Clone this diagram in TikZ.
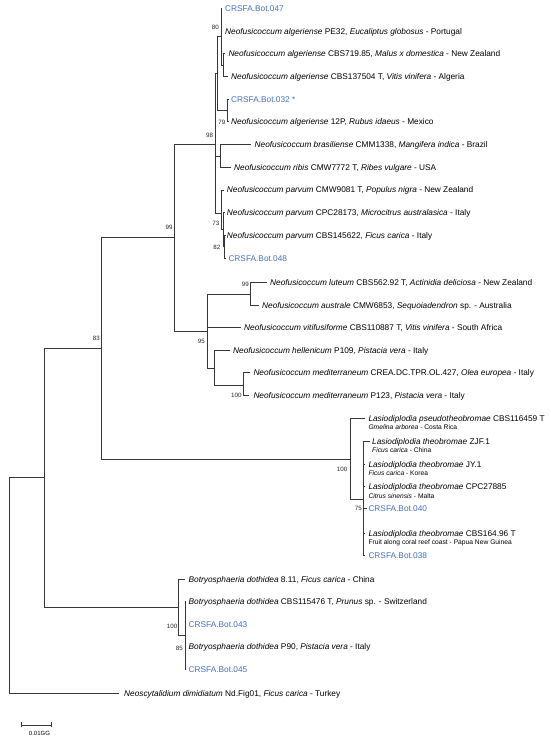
\documentclass[tikz,border=0pt]{standalone}
\usepackage{fontspec}
\setmainfont{Liberation Sans}
\definecolor{crsfa}{RGB}{68,114,196}
\definecolor{branch}{RGB}{55,55,55}
\begin{document}
\begin{tikzpicture}[x=1pt,y=-1pt,
  br/.style={draw=branch,line width=0.8pt,line cap=rect},
  lab/.style={anchor=base west,inner sep=0pt,font=\fontsize{8.3}{9.5}\selectfont},
  iso/.style={lab,text=crsfa},
  sub/.style={anchor=base west,inner sep=0pt,font=\fontsize{6.7}{7.5}\selectfont},
  bs/.style={anchor=base east,inner sep=0pt,font=\fontsize{6.2}{7}\selectfont,text=black!85}]
\useasboundingbox (0,0) rectangle (550,740);
\fill[white] (0,0) rectangle (550,740);
% internal nodes
\coordinate (root) at (9.3,585.5);
\coordinate (nB) at (44.3,477.7);
\coordinate (n83) at (101.7,348.3);
\coordinate (n99) at (174,237.3);
\coordinate (n98) at (215,144.3);
\coordinate (nXY) at (217,73.6);
\coordinate (n80) at (221,36.7);
\coordinate (nX2) at (223.3,65);
\coordinate (n79) at (227.7,110.5);
\coordinate (nBR) at (220.7,156);
\coordinate (nP) at (221.7,213.3);
\coordinate (nP2) at (223,229.6);
\coordinate (nP3) at (224.2,246.6);
\coordinate (n95) at (207.3,331);
\coordinate (nLA) at (250,294);
\coordinate (nM) at (214,368.3);
\coordinate (nMed) at (243.3,385);
\coordinate (nL) at (350.7,459.3);
\coordinate (nL2) at (363.3,499);
\coordinate (nBot) at (178,607.7);
\coordinate (nBot2) at (185,635.5);
% tips
\coordinate (t047) at (222,8.3);
\coordinate (tPE32) at (222,31);
\coordinate (t719) at (225,53.7);
\coordinate (t137) at (228,76.4);
\coordinate (t032) at (228.7,99.1);
\coordinate (t12P) at (228.7,121.8);
\coordinate (tBra) at (250.5,144.5);
\coordinate (tRib) at (231,167.2);
\coordinate (tCMW) at (223.7,189.9);
\coordinate (tCPC) at (224.2,212.6);
\coordinate (tC145) at (225.3,235.3);
\coordinate (t048) at (225.3,258);
\coordinate (tLut) at (266.7,282.5);
\coordinate (tAus) at (258.3,305);
\coordinate (tVit) at (241,327.5);
\coordinate (tHel) at (229.5,350);
\coordinate (tCREA) at (250,372);
\coordinate (tP123) at (249,395);
\coordinate (tPseu) at (365,418.8);
\coordinate (tZJF) at (370,441.7);
\coordinate (tJY) at (364.3,464);
\coordinate (tCPC2) at (364.3,486.7);
\coordinate (t040) at (366.7,508.3);
\coordinate (tCBS164) at (364.3,533.3);
\coordinate (t038) at (364.3,555.7);
\coordinate (t811) at (184.5,579);
\coordinate (tCBS115) at (186,601.7);
\coordinate (t043) at (186,624.3);
\coordinate (tP90) at (186,646.7);
\coordinate (t045) at (186,669.3);
\coordinate (tNeo) at (118.3,693.3);
% branches
\draw[br] (root) |- (nB);  \draw[br] (root) |- (tNeo);
\draw[br] (nB) |- (n83);   \draw[br] (nB) |- (nBot);
\draw[br] (n83) |- (n99);  \draw[br] (n83) |- (nL);
\draw[br] (n99) |- (n98);  \draw[br] (n99) |- (n95);
\draw[br] (n98) |- (nXY);  \draw[br] (n98) |- (nBR);  \draw[br] (n98) |- (nP);
\draw[br] (nXY) |- (n80);  \draw[br] (nXY) |- (n79);
\draw[br] (n80) |- (t047); \draw[br] (n80) |- (tPE32); \draw[br] (n80) |- (nX2);
\draw[br] (nX2) |- (t719); \draw[br] (nX2) |- (t137);
\draw[br] (n79) |- (t032); \draw[br] (n79) |- (t12P);
\draw[br] (nBR) |- (tBra); \draw[br] (nBR) |- (tRib);
\draw[br] (nP) |- (tCMW);  \draw[br] (nP) |- (nP2);
\draw[br] (nP2) |- (tCPC); \draw[br] (nP2) |- (nP3);
\draw[br] (nP3) |- (tC145); \draw[br] (nP3) |- (t048);
\draw[br] (n95) |- (nLA);  \draw[br] (n95) |- (tVit); \draw[br] (n95) |- (nM);
\draw[br] (nLA) |- (tLut); \draw[br] (nLA) |- (tAus);
\draw[br] (nM) |- (tHel);  \draw[br] (nM) |- (nMed);
\draw[br] (nMed) |- (tCREA); \draw[br] (nMed) |- (tP123);
\draw[br] (nL) |- (tPseu); \draw[br] (nL) |- (nL2);
\draw[br] (nL2) |- (tZJF); \draw[br] (nL2) |- (tJY); \draw[br] (nL2) |- (tCPC2);
\draw[br] (nL2) |- (t040); \draw[br] (nL2) |- (tCBS164); \draw[br] (nL2) |- (t038);
\draw[br] (nBot) |- (t811); \draw[br] (nBot) |- (nBot2);
\draw[br] (nBot2) |- (tCBS115); \draw[br] (nBot2) |- (t043);
\draw[br] (nBot2) |- (tP90); \draw[br] (nBot2) |- (t045);
% tip labels
\node[iso] (l047) at (225,11.3) {CRSFA.Bot.047};
\node[lab] (lPE32) at (225,34) {\textit{Neofusicoccum algeriense} PE32, \textit{Eucaliptus globosus} - Portugal};
\node[lab] (l719) at (228.3,56.7) {\textit{Neofusicoccum algeriense} CBS719.85, \textit{Malus x domestica} - New Zealand};
\node[lab] (l137) at (231,79.4) {\textit{Neofusicoccum algeriense} CBS137504 T, \textit{Vitis vinifera} - Algeria};
\node[iso] (l032) at (231,102.1) {CRSFA.Bot.032 *};
\node[lab] (l12P) at (231,124.8) {\textit{Neofusicoccum algeriense} 12P, \textit{Rubus idaeus} - Mexico};
\node[lab] (lBra) at (254.5,147.5) {\textit{Neofusicoccum brasiliense} CMM1338, \textit{Mangifera indica} - Brazil};
\node[lab] (lRib) at (234,170.2) {\textit{Neofusicoccum ribis} CMW7772 T, \textit{Ribes vulgare} - USA};
\node[lab] (lCMW) at (226.7,192.9) {\textit{Neofusicoccum parvum} CMW9081 T, \textit{Populus nigra} - New Zealand};
\node[lab] (lCPC) at (226.7,215.6) {\textit{Neofusicoccum parvum} CPC28173, \textit{Microcitrus australasica} - Italy};
\node[lab] (lC145) at (226.7,238.3) {\textit{Neofusicoccum parvum} CBS145622, \textit{Ficus carica} - Italy};
\node[iso] (l048) at (228.3,261) {CRSFA.Bot.048};
\node[lab] (lLut) at (270,285.5) {\textit{Neofusicoccum luteum} CBS562.92 T, \textit{Actinidia deliciosa} - New Zealand};
\node[lab] (lAus) at (262,308) {\textit{Neofusicoccum australe} CMW6853, \textit{Sequoiadendron} sp. - Australia};
\node[lab] (lVit) at (244,330.5) {\textit{Neofusicoccum vitifusiforme} CBS110887 T, \textit{Vitis vinifera} - South Africa};
\node[lab] (lHel) at (233,353) {\textit{Neofusicoccum hellenicum} P109, \textit{Pistacia vera} - Italy};
\node[lab] (lCREA) at (253.3,375) {\textit{Neofusicoccum mediterraneum} CREA.DC.TPR.OL.427, \textit{Olea europea} - Italy};
\node[lab] (lP123) at (253.3,398) {\textit{Neofusicoccum mediterraneum} P123, \textit{Pistacia vera} - Italy};
\node[lab] (lPseu) at (368.3,421.8) {\textit{Lasiodiplodia pseudotheobromae} CBS116459 T};
\node[sub] (lPseuB) at (368.3,429.3) {\textit{Gmelina arborea} - Costa Rica};
\node[lab] (lZJF) at (372,444.7) {\textit{Lasiodiplodia theobromae} ZJF.1};
\node[sub] (lZJFb) at (372,452.6) {\textit{Ficus carica} - China};
\node[lab] (lJY) at (368.3,467) {\textit{Lasiodiplodia theobromae} JY.1};
\node[sub] (lJYb) at (368.3,475.3) {\textit{Ficus carica} - Korea};
\node[lab] (lCPC2) at (368.3,489.7) {\textit{Lasiodiplodia theobromae} CPC27885};
\node[sub] (lCPC2b) at (368.3,498.3) {\textit{Citrus sinensis} - Malta};
\node[iso] (l040) at (368.3,511.3) {CRSFA.Bot.040};
\node[lab] (lCBS164) at (368.3,536.3) {\textit{Lasiodiplodia theobromae} CBS164.96 T};
\node[sub] (lCBS164b) at (368.3,544.3) {Fruit along coral reef coast - Papua New Guinea};
\node[iso] (l038) at (368.3,558.7) {CRSFA.Bot.038};
\node[lab] (l811) at (188.5,582) {\textit{Botryosphaeria dothidea} 8.11, \textit{Ficus carica} - China};
\node[lab] (lCBS115) at (188.5,604.7) {\textit{Botryosphaeria dothidea} CBS115476 T, \textit{Prunus} sp. - Switzerland};
\node[iso] (l043) at (188.5,627.3) {CRSFA.Bot.043};
\node[lab] (lP90) at (188.5,649.7) {\textit{Botryosphaeria dothidea} P90, \textit{Pistacia vera} - Italy};
\node[iso] (l045) at (188.5,672.3) {CRSFA.Bot.045};
\node[lab] (lNeo) at (124,696.3) {\textit{Neoscytalidium dimidiatum} Nd.Fig01, \textit{Ficus carica} - Turkey};
% bootstrap values
\node[bs] (b80) at (219,29) {80};
\node[bs] (b79) at (225.5,124) {79};
\node[bs] (b98) at (213.3,137.2) {98};
\node[bs] (b99a) at (172.7,229.7) {99};
\node[bs] (b73) at (219.5,225.5) {73};
\node[bs] (b82) at (220.5,249) {82};
\node[bs] (b83) at (100,340.5) {83};
\node[bs] (b99b) at (249,286.2) {99};
\node[bs] (b95) at (205,343.2) {95};
\node[bs] (b100a) at (241.7,397.2) {100};
\node[bs] (b100b) at (347.5,471.5) {100};
\node[bs] (b75) at (362,510.5) {75};
\node[bs] (b100c) at (177.5,628) {100};
\node[bs] (b85) at (183,650.5) {85};
% scale bar
\coordinate (sb1) at (21.7,725);
\coordinate (sb2) at (51.7,725);
\draw[br,line width=0.7pt] (sb1) -- (sb2);
\draw[br,line width=0.7pt] ([yshift=3pt]sb1) -- ([yshift=-2pt]sb1);
\draw[br,line width=0.7pt] ([yshift=3pt]sb2) -- ([yshift=-2pt]sb2);
\node[anchor=base,inner sep=0pt,font=\fontsize{6}{7}\selectfont] (sbl) at (39.5,735) {0.01GG};
\end{tikzpicture}
\end{document}
